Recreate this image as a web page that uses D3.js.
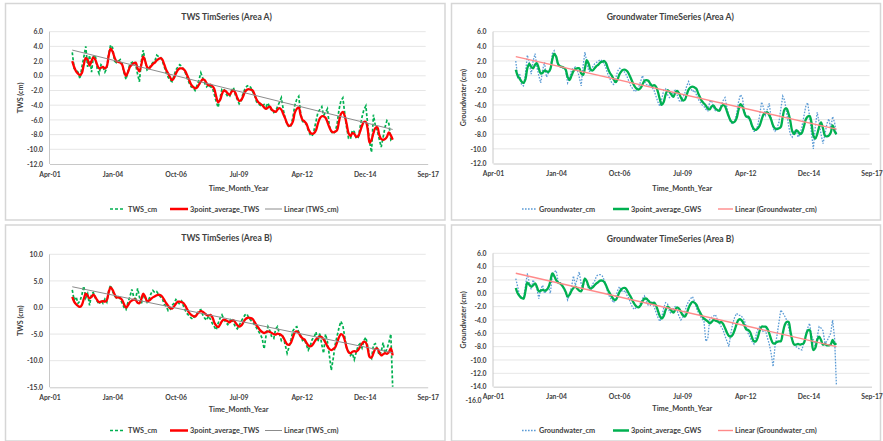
<!DOCTYPE html>
<html><head><meta charset="utf-8">
<script src="https://cdn.jsdelivr.net/npm/d3@7"></script>
<style>body{margin:0;background:#fff}svg{display:block;font-family:Lato,"Open Sans",sans-serif}</style>
</head><body><svg id="c" width="883" height="441"></svg>
<script>
// x axis: Excel serial dates (1000-day major unit) and their labels
const xTickSerials = [37000, 38000, 39000, 40000, 41000, 42000, 43000];
const xTickLabels = ["Apr-01", "Jan-04", "Oct-06", "Jul-09", "Apr-12", "Dec-14", "Sep-17"];
// monthly categories Apr 2002 .. Mar 2016
const months = d3.range(168).map(i => new Date(Date.UTC(2002, 3 + i, 15)));

// y tick labels
const yTicksA = [6, 4, 2, 0, -2, -4, -6, -8, -10, -12];
const yTicksB = [10, 5, 0, -5, -10, -15];
const yTicksD = [6, 4, 2, 0, -2, -4, -6, -8, -10, -12, -14, -16];

// ---- Area A : TWS (cm) ----
const twsA = [
  3.2, 1.0, 0.8, 0.5, -0.4, 1.2, 2.5, 4.0, 1.2,
  2.8, 0.5, 2.6, 2.8, 1.0, 0.3, 1.5, 1.2, 0.5, 1.0, 3.0, 4.2,
  3.8, 2.0, 1.8, 2.0, 2.2, 1.6, 0.4, -0.5, 0.6, 1.6, 1.8, 2.0,
  1.5, 0.2, -0.8, 2.0, 3.5, 2.0, 0.8, 1.0, 1.5, 1.8, 2.0, 2.8,
  2.6, 2.5, 2.0, 1.2, 0.4, -0.2, -0.6, -0.8, 0.0, 0.8, 1.2, 1.5,
  1.3, 0.8, 0.4, -0.4, -1.0, -1.5, -1.6, -2.0, -1.3, -0.6, 0.4, -0.3,
  -1.0, -1.5, -1.2, -1.5, -1.6, -2.5, -3.5, -4.3, -3.0, -1.8, -1.8, -2.4,
  -2.8, -2.8, -2.0, -1.6, -2.6, -3.2, -3.8, -3.4, -2.4, -1.8, -1.4, -1.3,
  -1.6, -2.2, -2.6, -3.5, -3.8, -4.0, -4.2, -3.9, -4.2, -3.7, -4.4, -4.7,
  -5.0, -4.8, -4.2, -3.6, -3.0, -4.6, -5.8, -6.6, -7.0, -6.8, -5.6, -4.0,
  -3.2, -2.8, -5.0, -6.2, -6.4, -6.6, -7.4, -8.0, -8.2, -7.4, -6.2, -5.0,
  -4.6, -4.2, -5.4, -5.0, -4.5, -6.8, -7.6, -7.9, -7.6, -6.6, -4.6, -3.4,
  -3.0, -5.2, -7.0, -8.5, -8.6, -7.4, -7.6, -8.5, -8.4, -7.0, -5.6, -4.6,
  -4.1, -6.8, -9.0, -10.4, -5.3, -6.8, -7.5, -8.6, -9.7, -8.4, -7.0, -6.1,
  -6.5, -8.7, -8.4
];
const twsA3 = [
  2.0, 1.2, 0.6, 0.3, 0.1, 0.4, 1.5, 2.4, 2.2,
  1.4, 2.0, 2.5, 2.2, 1.5, 1.0, 1.1, 1.2, 1.0, 1.3, 2.8, 3.7,
  3.3, 2.5, 2.0, 1.9, 1.8, 1.5, 0.6, 0.0, 0.5, 1.2, 1.5, 1.7,
  1.8, 1.0, 0.6, 1.5, 2.6, 2.0, 1.2, 1.0, 1.3, 1.6, 1.8, 2.1,
  2.3, 2.4, 2.2, 1.5, 0.8, 0.3, -0.2, -0.6, -0.3, 0.3, 0.8, 1.0,
  1.0, 0.9, 0.6, 0.0, -0.6, -1.2, -1.5, -1.7, -1.6, -1.2, -0.8, -0.5,
  -0.6, -1.0, -1.3, -1.2, -1.4, -1.8, -2.8, -3.6, -3.3, -2.5, -2.0, -2.1,
  -2.4, -2.6, -2.2, -2.0, -2.3, -3.0, -3.4, -3.3, -2.8, -2.2, -1.9, -1.8,
  -1.9, -2.0, -2.5, -3.2, -3.6, -3.8, -4.0, -4.3, -4.5, -4.3, -4.2, -4.6,
  -4.8, -4.9, -4.6, -4.4, -4.6, -5.2, -5.8, -6.5, -6.8, -6.7, -6.2, -5.0,
  -4.5, -4.3, -5.3, -6.0, -6.2, -6.5, -7.2, -7.7, -7.9, -7.8, -7.4, -6.5,
  -5.8, -5.5, -5.5, -5.7, -6.3, -7.0, -7.5, -7.7, -7.6, -7.4, -6.2, -5.2,
  -4.9, -5.5, -6.5, -7.8, -8.2, -7.8, -7.9, -8.3, -8.2, -7.6, -6.8, -6.3,
  -6.3, -7.4, -9.1, -8.7, -7.8, -7.1, -7.0, -8.0, -8.6, -8.7, -8.6, -8.3,
  -7.7, -8.1, -8.7
];
const trendTwsA = [3.5, -7.3];

// ---- Area A : Groundwater (cm) ----
const gwsA = [
  2.0, -0.2, 0.3, -1.2, -1.4, 0.2, 2.8, 1.8, 0.2,
  2.0, 3.0, 1.2, 0.0, -1.0, 0.8, 1.8, -0.2, 0.4, 0.8, 3.0, 3.4,
  2.4, 1.4, 1.2, 1.0, 1.2, 0.6, -1.0, -0.4, 0.8, 1.0, 1.2, 0.8,
  -0.2, -1.4, 1.2, 3.2, 1.8, 0.6, 0.6, 1.2, 1.6, 1.8, 2.0, 2.2,
  2.0, 1.6, 1.0, 0.2, -0.4, -1.0, -1.2, -0.4, 0.6, 1.0, 0.9, 0.6,
  0.4, -0.2, -0.8, -1.5, -1.8, -2.2, -2.0, -1.6, -0.8, 0.0, -0.8, -1.2,
  -1.4, -1.2, -1.6, -2.0, -2.8, -3.6, -4.2, -3.2, -2.0, -1.8, -2.6, -3.0,
  -2.8, -2.2, -2.0, -2.6, -3.4, -3.6, -3.0, -2.4, -1.4, -0.8, -1.6, -2.2,
  -2.0, -2.6, -3.2, -3.6, -4.0, -4.2, -4.6, -4.8, -3.6, -3.4, -4.4, -4.8,
  -4.8, -4.6, -4.0, -3.4, -3.0, -4.4, -5.6, -6.4, -6.6, -6.2, -5.2, -3.6,
  -2.6, -3.0, -4.8, -5.6, -5.8, -6.2, -7.0, -7.6, -7.6, -6.8, -5.4, -3.6,
  -4.4, -5.4, -4.6, -3.8, -5.8, -7.2, -7.6, -7.2, -6.4, -4.6, -2.8, -3.4,
  -5.0, -6.8, -8.0, -8.4, -7.6, -7.4, -8.4, -8.0, -7.0, -5.6, -4.2, -3.7,
  -5.6, -8.0, -10.0, -7.0, -5.0, -6.4, -8.0, -9.3, -8.0, -6.6, -5.9, -7.2,
  -5.6, -6.4, -8.1
];
const gwsA3 = [
  0.8, 0.0, -0.4, -0.8, -1.0, -0.5, 1.0, 1.6, 1.2,
  1.0, 1.5, 1.7, 1.0, 0.3, 0.4, 0.7, 0.6, 0.5, 0.9, 2.2, 3.0,
  2.6, 1.6, 1.3, 1.2, 1.1, 0.8, -0.2, -0.6, 0.0, 0.6, 0.9, 1.0,
  1.0, 0.3, 0.1, 1.0, 2.1, 1.6, 0.8, 0.7, 1.0, 1.3, 1.5, 1.8,
  1.9, 2.0, 1.7, 1.0, 0.4, 0.0, -0.5, -0.9, -0.5, 0.2, 0.6, 0.8,
  0.8, 0.6, 0.2, -0.4, -1.0, -1.5, -1.8, -1.9, -1.7, -1.2, -0.7, -0.6,
  -0.7, -1.1, -1.4, -1.3, -1.5, -2.2, -3.2, -4.0, -3.6, -2.6, -2.0, -2.2,
  -2.6, -2.9, -2.4, -2.1, -2.4, -3.0, -3.4, -3.3, -2.6, -1.9, -1.6, -1.5,
  -1.6, -1.8, -2.4, -3.0, -3.5, -3.8, -4.1, -4.5, -4.6, -4.2, -4.1, -4.5,
  -4.7, -4.8, -4.3, -4.0, -4.2, -4.9, -5.6, -6.2, -6.4, -6.3, -5.8, -4.7,
  -3.9, -4.2, -5.0, -5.6, -5.6, -6.0, -6.8, -7.3, -7.4, -7.2, -6.8, -6.0,
  -5.3, -5.1, -5.0, -5.4, -6.0, -6.8, -7.2, -7.3, -7.2, -7.0, -5.6, -4.6,
  -4.5, -5.2, -6.2, -7.6, -8.0, -7.5, -7.6, -8.0, -7.8, -7.0, -6.0, -5.6,
  -5.5, -6.5, -8.2, -8.6, -8.0, -7.0, -6.4, -7.2, -8.2, -8.3, -8.2, -7.8,
  -6.8, -7.6, -8.0
];
const trendGwsA = [2.6, -7.3];

// ---- Area B : TWS (cm) ----
const twsB = [
  3.3, 1.4, 2.0, 0.8, 1.2, 2.4, 4.0, 1.8, 2.6,
  0.4, 2.6, 2.8, 1.8, 1.2, 0.6, 1.4, 0.8, 1.6, 1.0, 3.2, 4.2,
  3.0, 2.2, 1.8, 2.0, 1.6, 0.8, 0.0, -0.4, 1.0, 2.0, 3.4, 2.0,
  1.6, 3.6, 2.0, 0.6, 2.4, 1.8, 1.0, 1.6, 2.6, 3.2, 2.8, 3.0,
  2.4, 2.0, 1.6, 0.6, 0.2, -0.6, -0.4, 0.4, 0.8, 1.5, 1.0, 0.6,
  1.2, 0.2, -0.6, -1.2, -1.6, -2.0, -2.2, -1.4, -1.2, -0.6, -0.4, -1.4,
  -2.0, -2.4, -1.6, -2.2, -3.0, -3.6, -4.2, -3.0, -2.0, -1.4, -2.2, -2.8,
  -3.2, -2.6, -2.0, -2.8, -3.6, -4.0, -3.4, -2.6, -2.0, -1.4, -1.2, -2.0,
  -2.4, -2.8, -3.2, -3.8, -4.4, -5.0, -5.8, -7.8, -5.2, -3.6, -4.4, -5.6,
  -5.8, -4.0, -3.6, -5.0, -6.2, -5.6, -7.0, -8.6, -7.4, -6.0, -4.4, -3.8,
  -3.6, -4.6, -5.2, -6.2, -6.0, -7.0, -8.0, -7.2, -6.0, -5.6, -4.6, -6.4,
  -4.8, -7.0, -8.6, -5.0, -6.4, -9.0, -11.8, -9.6, -7.0, -5.4, -3.8, -2.6,
  -3.4, -5.6, -7.6, -8.2, -9.0, -8.6, -9.8, -8.4, -7.2, -6.8, -7.6, -6.2,
  -5.6, -7.4, -9.2, -9.6, -7.0, -6.8, -7.8, -9.0, -8.4, -6.6, -8.6, -7.8,
  -6.6, -5.0, -14.9
];
const twsB3 = [
  2.0, 1.1, 0.6, 0.3, 0.1, 0.5, 1.6, 2.6, 2.2,
  1.7, 2.0, 2.4, 2.0, 1.4, 1.0, 1.1, 1.2, 1.1, 1.4, 2.9, 3.8,
  3.3, 2.5, 1.9, 1.9, 1.8, 1.4, 0.6, 0.0, 0.4, 1.0, 1.3, 1.5,
  1.4, 0.9, 0.8, 1.6, 2.6, 2.0, 1.2, 1.3, 1.6, 1.9, 2.1, 2.3,
  2.4, 2.3, 2.0, 1.4, 0.8, 0.3, -0.1, -0.2, 0.2, 0.7, 1.1, 1.1,
  1.0, 0.8, 0.3, -0.4, -1.0, -1.4, -1.6, -1.7, -1.3, -0.9, -0.7, -0.8,
  -1.1, -1.4, -1.5, -1.4, -1.8, -2.8, -3.4, -3.7, -3.2, -2.6, -2.3, -2.4,
  -2.6, -2.8, -2.5, -2.4, -2.8, -3.3, -3.6, -3.4, -2.9, -2.3, -2.0, -1.9,
  -2.0, -2.2, -2.7, -3.3, -3.8, -4.3, -4.6, -4.8, -4.6, -4.5, -4.6, -4.8,
  -5.0, -5.1, -4.9, -5.0, -5.2, -5.6, -6.3, -6.9, -7.0, -6.6, -5.6, -4.7,
  -4.5, -4.8, -5.4, -5.8, -6.0, -6.6, -7.1, -7.3, -7.1, -6.6, -6.0, -5.7,
  -5.5, -5.6, -6.0, -6.6, -7.3, -7.8, -8.0, -7.8, -7.5, -6.6, -5.6, -5.0,
  -5.2, -6.2, -7.5, -8.4, -8.6, -8.3, -8.2, -8.3, -8.0, -7.4, -6.8, -6.4,
  -6.6, -7.8, -9.3, -9.4, -8.6, -7.8, -7.7, -8.4, -9.0, -8.8, -8.6, -8.7,
  -8.4, -7.7, -9.0
];
const trendTwsB = [3.9, -8.5];

// ---- Area B : Groundwater (cm) ----
const gwsB = [
  2.2, 1.0, -0.4, -0.6, -0.8, 1.0, 3.0, 1.6, 0.6,
  2.0, 1.2, 0.8, -0.8, 0.6, 1.2, 0.0, 0.4, 1.0, 0.0, 2.6, 3.2,
  3.4, 1.8, 1.6, 1.4, 0.6, 0.0, -1.0, -0.2, 1.0, 2.6, 1.2, 2.2,
  3.2, 1.4, 0.8, 2.4, 1.6, 0.6, 0.4, 1.4, 1.8, 2.6, 2.8, 2.8,
  2.6, 2.0, 1.2, 0.0, -0.6, -1.0, -1.4, -0.6, 0.4, 1.0, 0.4, 0.2,
  0.4, -0.4, -0.8, -1.6, -2.2, -2.4, -2.0, -2.2, -1.4, -0.8, -0.4, -1.2,
  -1.8, -1.8, -1.2, -2.0, -2.8, -3.6, -4.2, -3.6, -2.2, -1.4, -1.6, -2.8,
  -3.0, -2.2, -2.0, -2.6, -3.4, -4.0, -3.6, -2.8, -1.8, -1.2, -0.8, -0.5,
  -1.2, -2.2, -2.8, -3.4, -3.8, -4.2, -7.2, -6.8, -3.8, -3.6, -3.4, -3.2,
  -4.0, -4.4, -5.0, -5.5, -6.4, -7.2, -8.0, -6.0, -4.5, -3.6, -3.0, -3.3,
  -3.3, -3.6, -4.0, -5.0, -6.0, -6.6, -7.2, -7.6, -6.4, -5.4, -5.0, -5.4,
  -5.8, -5.6, -6.6, -7.6, -9.0, -11.0, -8.0, -6.4, -4.4, -2.5, -2.9, -3.4,
  -4.0, -5.0, -6.2, -7.0, -7.6, -8.0, -8.2, -8.4, -8.5, -7.4, -6.2, -5.2,
  -4.5, -6.4, -7.0, -8.0, -6.6, -5.0, -5.2, -5.6, -7.5, -7.2, -6.6, -6.0,
  -4.0, -6.8, -13.8
];
const gwsB3 = [
  0.8, 0.0, -0.4, -0.7, -0.8, 0.3, 1.6, 1.3, 1.0,
  1.2, 1.5, 1.0, 0.3, 0.4, 0.5, 0.4, 0.5, 0.9, 1.8, 3.0, 2.6,
  2.0, 1.6, 1.5, 1.2, 0.8, 0.2, -0.5, -0.2, 0.4, 0.8, 1.0, 0.7,
  0.4, 0.3, 1.2, 2.2, 1.8, 1.0, 0.7, 0.9, 1.2, 1.5, 1.7, 1.9,
  1.9, 1.7, 1.2, 0.5, 0.0, -0.5, -0.9, -1.0, -0.5, 0.2, 0.6, 0.8,
  0.8, 0.4, -0.1, -0.6, -1.2, -1.7, -2.0, -2.1, -1.8, -1.2, -0.8, -0.8,
  -1.1, -1.4, -1.5, -1.4, -1.8, -2.6, -3.4, -3.8, -3.4, -2.5, -2.0, -2.2,
  -2.6, -2.9, -2.5, -2.1, -2.3, -2.8, -3.3, -3.5, -3.0, -2.2, -1.6, -1.3,
  -1.4, -1.7, -2.3, -2.9, -3.4, -3.8, -4.0, -4.2, -4.5, -4.3, -4.0, -4.1,
  -4.2, -4.4, -4.3, -4.6, -5.2, -5.9, -6.4, -6.5, -6.2, -5.5, -4.6, -4.0,
  -3.9, -4.2, -4.8, -5.4, -5.5, -5.8, -6.6, -7.2, -7.2, -6.6, -5.6, -5.0,
  -5.0, -5.0, -5.3, -6.0, -6.9, -7.5, -7.5, -7.3, -7.2, -7.2, -6.0, -4.8,
  -4.3, -4.3, -5.6, -7.0, -7.7, -7.7, -7.6, -7.7, -7.6, -7.5, -6.4, -5.6,
  -5.5, -7.0, -8.5, -8.2, -7.0, -6.5, -7.0, -7.7, -7.6, -7.8, -7.8, -7.7,
  -7.0, -7.6, -7.5
];
const trendGwsB = [3.0, -8.0];

const serialToDate = s => new Date(Date.UTC(1899, 11, 30) + s * 864e5);
const svg = d3.select("#c");
const TXT = "#404040";

// panel frames
[[5.5, 3.5, 439.5, 216.5], [451.5, 3.5, 429, 216.5], [5.5, 225, 439.5, 216], [451.5, 225, 429, 216]]
  .forEach(r => svg.append("rect").attr("x", r[0]).attr("y", r[1]).attr("width", r[2]).attr("height", r[3])
    .attr("fill", "#fff").attr("stroke", "#d6d6d6").attr("stroke-width", 1.5));

function drawPanel(p) {
  const g = svg.append("g");
  const x = d3.scaleUtc().domain([serialToDate(xTickSerials[0]), serialToDate(xTickSerials[xTickSerials.length - 1])]).range([p.x0, p.x1]);
  const y = d3.scaleLinear().domain([p.yMax, p.yMin]).range([p.yTop, p.yBot]);

  g.selectAll("line.grid").data(p.ticks.filter(t => t > p.axisAt)).join("line").attr("class", "grid")
    .attr("x1", p.x0).attr("x2", p.x1 - 2).attr("y1", d => y(d)).attr("y2", d => y(d))
    .attr("stroke", "#e3e3e3").attr("stroke-width", 0.9);

  const ya = d3.axisLeft(y).tickValues(p.ticks).tickSize(0).tickPadding(6.5).tickFormat(d => d.toFixed(1));
  const yg = g.append("g").attr("transform", `translate(${p.x0},0)`).call(ya);
  yg.select(".domain").remove();
  yg.selectAll("text").attr("font-size", 6.8).attr("font-weight", 700).attr("fill", TXT).attr("font-family", "Lato");
  // label below the horizontal axis (as in the reference) nudged left of the date label
  yg.selectAll(".tick").filter(d => d < p.axisAt).select("text").attr("x", -11.5);
  g.append("line").attr("x1", p.x0).attr("x2", p.x0).attr("y1", y(p.ticks[0])).attr("y2", y(p.axisAt))
    .attr("stroke", "#c8c8c8").attr("stroke-width", 1);

  const xa = d3.axisBottom(x).tickValues(xTickSerials.map(serialToDate))
    .tickFormat((d, i) => xTickLabels[i]).tickSize(0).tickSizeOuter(0).tickPadding(8);
  const xg = g.append("g").attr("transform", `translate(0,${y(p.axisAt)})`).call(xa);
  xg.select(".domain").attr("stroke", "#c8c8c8").attr("stroke-width", 1);
  xg.selectAll("text").attr("font-size", 6.8).attr("font-weight", 700).attr("fill", TXT).attr("font-family", "Lato");

  const line = d3.line().x((d, i) => x(months[i])).y(d => y(d));
  g.append("path").datum(p.raw).attr("d", line).attr("fill", "none")
    .attr("stroke", p.rawColor).attr("stroke-width", p.rawWidth).attr("stroke-dasharray", p.rawDash)
    .attr("stroke-linecap", p.rawCap);
  g.append("path").datum(p.avg).attr("d", line.curve(d3.curveCatmullRom.alpha(0.5))).attr("fill", "none")
    .attr("stroke", p.avgColor).attr("stroke-width", 2.3).attr("stroke-linejoin", "round");
  const n = months.length - 1;
  g.append("line").attr("x1", x(months[0])).attr("y1", y(p.trend[0])).attr("x2", x(months[n])).attr("y2", y(p.trend[1]))
    .attr("stroke", p.trendColor).attr("stroke-width", p.trendWidth);

  g.append("text").attr("x", (p.x0 + p.x1) / 2 - 12).attr("y", p.titleY).attr("text-anchor", "middle")
    .attr("dominant-baseline", "central").attr("font-size", 8.6).attr("font-weight", 700).attr("fill", TXT).text(p.title);
  g.append("text").attr("x", (p.x0 + p.x1) / 2).attr("y", p.xTitleY).attr("text-anchor", "middle")
    .attr("dominant-baseline", "central").attr("font-size", 7.4).attr("font-weight", 700).attr("fill", TXT).text("Time_Month_Year");
  g.append("text").attr("transform", `translate(${p.yTitleX},${(p.yTop + y(p.axisAt)) / 2}) rotate(-90)`)
    .attr("text-anchor", "middle").attr("dominant-baseline", "central")
    .attr("font-size", 7.2).attr("font-weight", 700).attr("fill", TXT).text(p.yTitle);

  const L = p.legend, ly = p.legendY;
  const items = [
    {name: p.rawName, c: p.rawColor, w: p.rawWidth, dash: p.rawDash, cap: p.rawCap},
    {name: p.avgName, c: p.avgColor, w: 2.5, dash: null, cap: "butt"},
    {name: p.trendName, c: p.trendColor, w: p.trendWidth, dash: null, cap: "butt"}
  ];
  items.forEach((it, k) => {
    g.append("line").attr("x1", L[k * 3]).attr("x2", L[k * 3 + 1]).attr("y1", ly).attr("y2", ly)
      .attr("stroke", it.c).attr("stroke-width", it.w).attr("stroke-dasharray", it.dash).attr("stroke-linecap", it.cap);
    g.append("text").attr("x", L[k * 3 + 2]).attr("y", ly).attr("dominant-baseline", "central")
      .attr("font-size", 7.3).attr("font-weight", 700).attr("fill", TXT).text(it.name);
  });
}

const twsStyle = {rawColor: "#00b050", rawWidth: 1.7, rawDash: "3,2", rawCap: "butt", avgColor: "#ff0000",
  trendColor: "#8c8c8c", trendWidth: 1, rawName: "TWS_cm", avgName: "3point_average_TWS", trendName: "Linear (TWS_cm)",
  yTitle: "TWS (cm)", legend: [110, 125, 128, 170, 188, 190, 265, 282, 284]};
const gwsStyle = {rawColor: "#5b9bd5", rawWidth: 1.3, rawDash: "1.6,1.4", rawCap: "butt", avgColor: "#00b050",
  trendColor: "#ff8a8a", trendWidth: 1.4, rawName: "Groundwater_cm", avgName: "3point_average_GWS",
  trendName: "Linear (Groundwater_cm)", yTitle: "Groundwater (cm)", legend: [522, 537, 539, 613, 629, 631, 718, 733, 735]};

drawPanel(Object.assign({}, twsStyle, {title: "TWS TimSeries (Area A)", raw: twsA, avg: twsA3, trend: trendTwsA,
  x0: 49.5, x1: 427.7, yMax: 6, yMin: -12, yTop: 31.7, yBot: 164, ticks: yTicksA, axisAt: -12,
  titleY: 17, xTitleY: 188, yTitleX: 20, legendY: 209}));
drawPanel(Object.assign({}, gwsStyle, {title: "Groundwater TimeSeries (Area A)", raw: gwsA, avg: gwsA3, trend: trendGwsA,
  x0: 493, x1: 871.5, yMax: 6, yMin: -12, yTop: 31.7, yBot: 163.5, ticks: yTicksA, axisAt: -12,
  titleY: 17, xTitleY: 188, yTitleX: 463, legendY: 209}));
drawPanel(Object.assign({}, twsStyle, {title: "TWS TimSeries (Area B)", raw: twsB, avg: twsB3, trend: trendTwsB,
  x0: 49.5, x1: 427.7, yMax: 10, yMin: -15, yTop: 254.3, yBot: 387.3, ticks: yTicksB, axisAt: -15,
  titleY: 238, xTitleY: 409, yTitleX: 20, legendY: 430.5}));
drawPanel(Object.assign({}, gwsStyle, {title: "Groundwater TimeSeries (Area B)", raw: gwsB, avg: gwsB3, trend: trendGwsB,
  x0: 493, x1: 871.5, yMax: 6, yMin: -16, yTop: 253.3, yBot: 400, ticks: yTicksD, axisAt: -14,
  titleY: 239, xTitleY: 408, yTitleX: 463, legendY: 430.5}));
</script></body></html>
